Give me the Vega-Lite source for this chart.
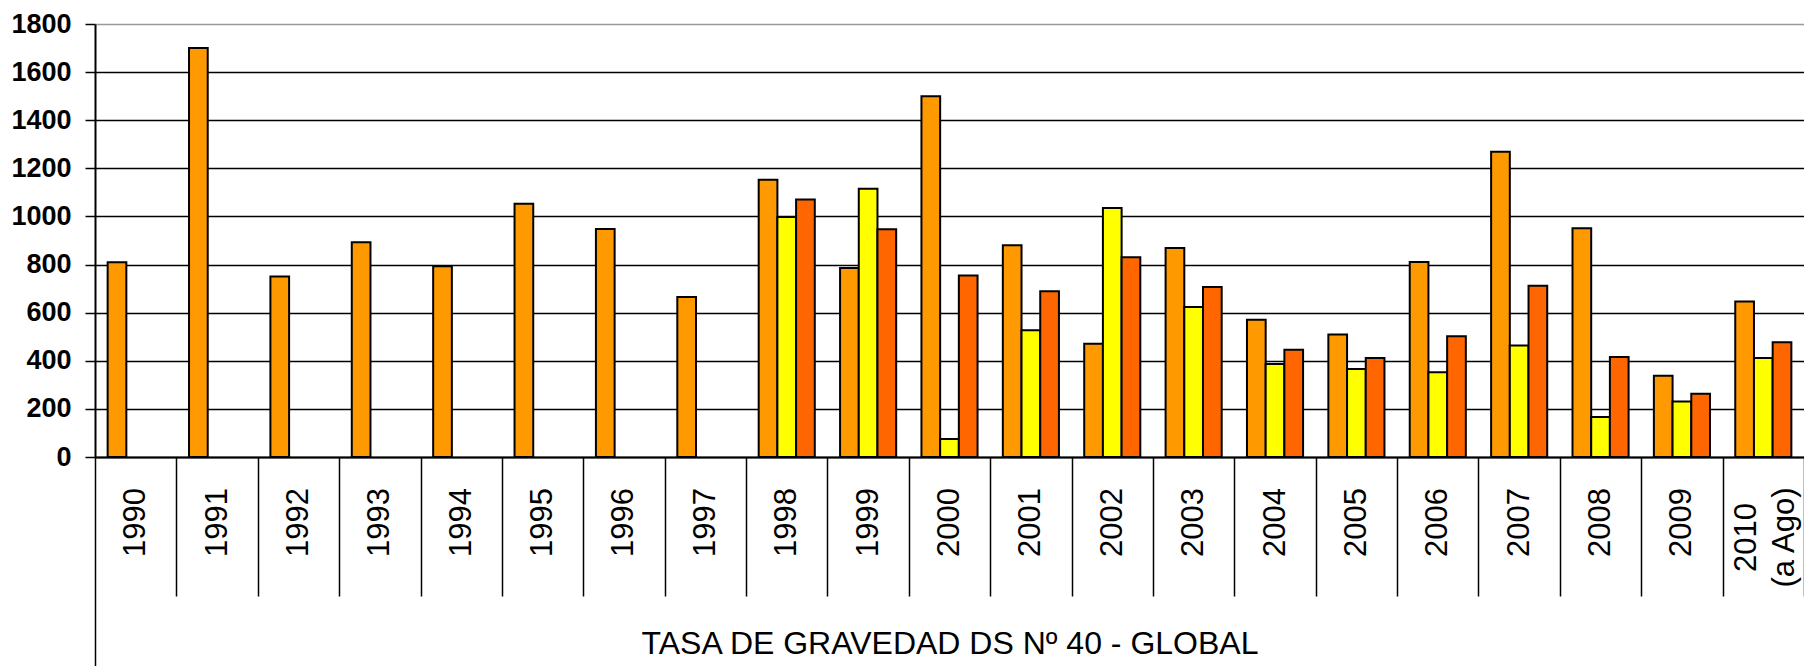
{
  "$schema": "https://vega.github.io/schema/vega-lite/v6.json",
  "width": 1709,
  "height": 433,
  "autosize": {"type": "none"},
  "padding": {"left": 95, "top": 24, "right": 0, "bottom": 209},
  "config": {"view": {"stroke": null}, "font": "Liberation Sans"},
  "data": {
    "values": [
      {"year": "1990", "s": "a", "v": 810},
      {"year": "1991", "s": "a", "v": 1700},
      {"year": "1992", "s": "a", "v": 750},
      {"year": "1993", "s": "a", "v": 893},
      {"year": "1994", "s": "a", "v": 793},
      {"year": "1995", "s": "a", "v": 1053},
      {"year": "1996", "s": "a", "v": 948},
      {"year": "1997", "s": "a", "v": 665},
      {"year": "1998", "s": "a", "v": 1153},
      {"year": "1998", "s": "b", "v": 998},
      {"year": "1998", "s": "c", "v": 1070},
      {"year": "1999", "s": "a", "v": 786},
      {"year": "1999", "s": "b", "v": 1115},
      {"year": "1999", "s": "c", "v": 947},
      {"year": "2000", "s": "a", "v": 1500},
      {"year": "2000", "s": "b", "v": 75},
      {"year": "2000", "s": "c", "v": 754},
      {"year": "2001", "s": "a", "v": 880},
      {"year": "2001", "s": "b", "v": 527},
      {"year": "2001", "s": "c", "v": 689},
      {"year": "2002", "s": "a", "v": 471},
      {"year": "2002", "s": "b", "v": 1035},
      {"year": "2002", "s": "c", "v": 830},
      {"year": "2003", "s": "a", "v": 869},
      {"year": "2003", "s": "b", "v": 624},
      {"year": "2003", "s": "c", "v": 707},
      {"year": "2004", "s": "a", "v": 571},
      {"year": "2004", "s": "b", "v": 387},
      {"year": "2004", "s": "c", "v": 446},
      {"year": "2005", "s": "a", "v": 509},
      {"year": "2005", "s": "b", "v": 366},
      {"year": "2005", "s": "c", "v": 412},
      {"year": "2006", "s": "a", "v": 811},
      {"year": "2006", "s": "b", "v": 352},
      {"year": "2006", "s": "c", "v": 502},
      {"year": "2007", "s": "a", "v": 1269},
      {"year": "2007", "s": "b", "v": 464},
      {"year": "2007", "s": "c", "v": 712},
      {"year": "2008", "s": "a", "v": 951},
      {"year": "2008", "s": "b", "v": 166},
      {"year": "2008", "s": "c", "v": 416},
      {"year": "2009", "s": "a", "v": 338},
      {"year": "2009", "s": "b", "v": 231},
      {"year": "2009", "s": "c", "v": 263},
      {"year": "2010", "s": "a", "v": 646},
      {"year": "2010", "s": "b", "v": 412},
      {"year": "2010", "s": "c", "v": 477}
    ]
  },
  "mark": {"type": "bar", "stroke": "black", "strokeWidth": 2},
  "encoding": {
    "x": {
      "field": "year",
      "type": "nominal",
      "scale": {"paddingInner": 0, "paddingOuter": 0},
      "axis": {
        "title": "TASA DE GRAVEDAD DS Nº 40 - GLOBAL",
        "titleFont": "Liberation Sans",
        "titleFontSize": 32,
        "titleFontWeight": "normal",
        "titleColor": "black",
        "titleY": 196,
        "titleBaseline": "alphabetic",
        "labelAngle": -90,
        "labelAlign": "center",
        "labelBaseline": "middle",
        "labelFlush": false,
        "labelBound": false,
        "labelFontSize": 31,
        "labelColor": "black",
        "labelLineHeight": 38,
        "labelPadding": {"condition": {"test": "datum.value == '2010'", "value": -59}, "value": -74},
        "labelOffset": {"condition": {"test": "datum.value == '2010'", "value": -17}, "value": 0},
        "labelExpr": "datum.value == '2010' ? ['2010', '(a Ago)'] : datum.value",
        "labelOverlap": false,
        "tickBand": "extent",
        "tickSize": {"condition": {"test": "datum.extra", "value": 209}, "value": 139},
        "tickColor": "black",
        "tickWidth": 1.5,
        "domainColor": "black",
        "domainWidth": 2,
        "grid": false
      }
    },
    "xOffset": {
      "field": "s",
      "type": "nominal",
      "scale": {"domain": ["a", "b", "c"], "paddingInner": 0, "paddingOuter": 0.676}
    },
    "y": {
      "field": "v",
      "type": "quantitative",
      "scale": {"domain": [0, 1800]},
      "axis": {
        "title": null,
        "values": [0, 200, 400, 600, 800, 1000, 1200, 1400, 1600, 1800],
        "format": "d",
        "labelFontSize": 27,
        "labelFontWeight": "bold",
        "labelColor": "black",
        "labelPadding": 14,
        "tickSize": 10,
        "tickColor": "black",
        "tickWidth": 1.5,
        "domainColor": "black",
        "domainWidth": 2,
        "gridColor": {"condition": {"test": "datum.value == 1800", "value": "#999999"}, "value": "black"},
        "gridWidth": 1.5
      }
    },
    "color": {
      "field": "s",
      "type": "nominal",
      "scale": {"domain": ["a", "b", "c"], "range": ["#FF9900", "#FFFF00", "#FF6600"]},
      "legend": null
    }
  }
}
